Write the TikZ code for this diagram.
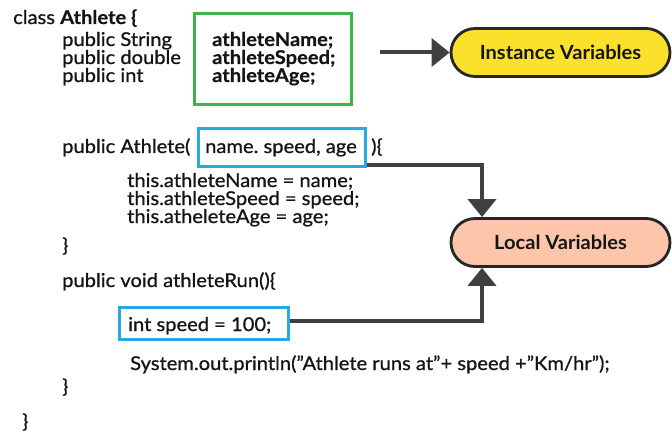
\documentclass[tikz,border=0pt]{standalone}
\usepackage{fontspec}
\setmainfont{Lato}
\newfontfamily\codefont{Lato}[FakeBold=0.9, FakeStretch=1.06]
\newfontfamily\codeboldfont{Lato Bold}[FakeBold=0.4, FakeStretch=1.06]
\newfontfamily\labelfont{Lato Bold}[FakeStretch=1.03]
\usetikzlibrary{arrows.meta}
\definecolor{boxgreen}{HTML}{3DB54A}
\definecolor{boxblue}{HTML}{27AAE1}
\definecolor{instfill}{HTML}{FBE12B}
\definecolor{locfill}{HTML}{FDC5A9}
\definecolor{conn}{HTML}{404040}
\definecolor{ink}{HTML}{151515}
\tikzset{
  code/.style={anchor=base west, inner sep=0pt, font=\fontsize{19}{19}\codefont\frenchspacing, text=ink},
  codeb/.style={code, font=\fontsize{19}{19}\codeboldfont},
  greenbox/.style={draw=boxgreen, line width=3pt, minimum width=157pt, minimum height=91pt, inner sep=0pt},
  bluebox/.style={draw=boxblue, line width=3pt, inner sep=0pt},
  pill/.style={draw=black!85, line width=2.8pt, rounded corners=24pt, minimum width=219pt, minimum height=48pt, font=\fontsize{19.5}{19.5}\labelfont, text=ink},
  connector/.style={draw=conn, line width=4pt},
  tip/.style={-{Triangle[length=18pt,width=28pt]}}
}
\begin{document}
\begin{tikzpicture}[x=1pt,y=-1pt]
\useasboundingbox (0,0) rectangle (672,433);
% class header
\node[code] (cls) at (13,24) {class {\codeboldfont Athlete \{}};
\node[code] (ps) at (62,46) {public String};
\node[code] (pd) at (62,64) {public double};
\node[code] (pi) at (62,82) {public int};
\node[greenbox] (green) at (272.5,59) {};
\node[codeb] (an) at (212,46) {athleteName;};
\node[codeb] (as) at (212,64) {athleteSpeed;};
\node[codeb] (aa) at (212,82) {athleteAge;};
% instance variables
\node[pill, fill=instfill] (inst) at (560.5,52.5) {Instance Variables};
\draw[connector, tip, shorten <=27pt] (green.east |- inst.west) -- (inst.west);
% constructor
\node[code] (ctor) at (62,153) {public Athlete(};
\node[bluebox, minimum width=167pt, minimum height=38pt] (params) at (282,147.5) {};
\node[code] (pn) at (205,153) {name. speed, age};
\node[code] (cb) at (371,153) {)\{};
\node[code] (t1) at (127,187) {this.athleteName = name;};
\node[code] (t2) at (127,205) {this.athleteSpeed = speed;};
\node[code] (t3) at (127,223) {this.atheleteAge = age;};
\node[code] (ce) at (62,252) {\}};
% method
\node[code] (run) at (62,287) {public void athleteRun()\{};
\node[bluebox, minimum width=169pt, minimum height=32pt] (local) at (204,323.5) {};
\node[code] (ls) at (128,331) {int speed = 100;};
\node[code] (pr) at (130,370) {System.out.println(”Athlete runs at”+ speed +”Km/hr”);};
\node[code] (re) at (62,393) {\}};
\node[code] (ke) at (22,428) {\}};
% local variables
\node[pill, fill=locfill] (loc) at (560.5,242.5) {Local Variables};
\coordinate (c1) at (482,165);
\coordinate (c2) at (482,321);
\draw[connector, tip] (params.east |- c1) -- (c1) -- (c1 |- loc.north);
\draw[connector, tip] (local.east |- c2) -- (c2) -- (c2 |- loc.south);
\end{tikzpicture}
\end{document}
